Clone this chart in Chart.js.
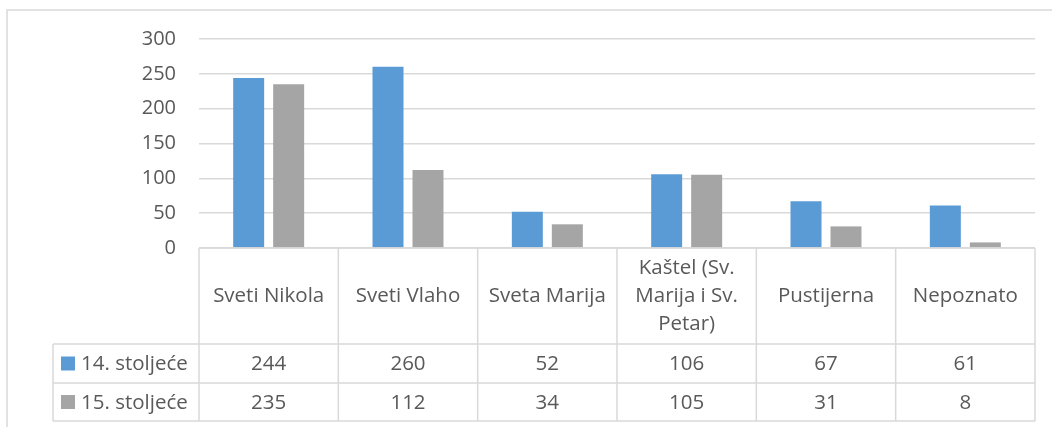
<!DOCTYPE html>
<html>
<head>
<meta charset="utf-8">
<script src="https://cdn.jsdelivr.net/npm/chart.js@4"></script>
<style>
  html, body { margin: 0; padding: 0; background: #fff; }
  canvas { display: block; }
</style>
</head>
<body>
<canvas id="chart" width="1052" height="427"></canvas>
<script>
const categories = ['Sveti Nikola', 'Sveti Vlaho', 'Sveta Marija', 'Kaštel (Sv. Marija i Sv. Petar)', 'Pustijerna', 'Nepoznato'];
const seriesNames = ['14. stoljeće', '15. stoljeće'];
const values14 = [244, 260, 52, 106, 67, 61];
const values15 = [235, 112, 34, 105, 31, 8];
const yMin = 0, yMax = 300, yStep = 50;

const BLUE = '#5B9BD5';
const GRAY = '#A5A5A5';
const LINE = '#D9D9D9';
const TEXT = '#595959';
const FONT = "'Open Sans', sans-serif";

// wrap a label into lines that fit the column
function wrap(ctx, text, maxW) {
    const words = text.split(' ');
    const lines = [];
    let cur = '';
    words.forEach(w => {
        const test = cur ? cur + ' ' + w : w;
        if (ctx.measureText(test).width > maxW && cur) {
            lines.push(cur);
            cur = w;
        } else {
            cur = test;
        }
    });
    if (cur) lines.push(cur);
    return lines;
}

// outer frame + data table under the plot
const tablePlugin = {
    id: 'dataTable',
    beforeDraw(chart) {
        const ctx = chart.ctx;
        ctx.save();
        ctx.strokeStyle = LINE;
        ctx.lineWidth = 1.5;
        ctx.beginPath();
        ctx.moveTo(7, chart.height);
        ctx.lineTo(7, 10);
        ctx.lineTo(chart.width, 10);
        ctx.stroke();
        ctx.restore();
    },
    afterDraw(chart) {
        const ctx = chart.ctx;
        const area = chart.chartArea;
        const xs = chart.scales.x;
        const colW = xs.getPixelForValue(1) - xs.getPixelForValue(0);
        const top = area.bottom;
        const headBottom = 344;
        const row1Bottom = 383;
        const row2Bottom = 421;
        const tableLeft = 53;

        ctx.save();
        ctx.strokeStyle = LINE;
        ctx.lineWidth = 1.5;
        ctx.beginPath();
        ctx.moveTo(area.left, top); ctx.lineTo(area.right, top);
        [headBottom, row1Bottom, row2Bottom].forEach(y => {
            ctx.moveTo(tableLeft, y); ctx.lineTo(area.right, y);
        });
        for (let i = 0; i <= categories.length; i++) {
            const x = xs.getPixelForValue(i) - colW / 2;
            ctx.moveTo(x, top); ctx.lineTo(x, row2Bottom);
        }
        ctx.moveTo(tableLeft, headBottom); ctx.lineTo(tableLeft, row2Bottom);
        ctx.stroke();

        ctx.fillStyle = TEXT;
        ctx.font = '20.5px ' + FONT;
        ctx.textAlign = 'center';
        ctx.textBaseline = 'middle';

        // header labels
        const lineH = 28;
        categories.forEach((c, i) => {
            const cx = xs.getPixelForValue(i);
            const lines = wrap(ctx, c, colW - 14);
            const midY = (top + headBottom) / 2;
            lines.forEach((ln, k) => {
                ctx.fillText(ln, cx, midY + (k - (lines.length - 1) / 2) * lineH);
            });
        });

        // rows
        const rows = [
            { name: seriesNames[0], color: BLUE, data: values14, y: (headBottom + row1Bottom) / 2 },
            { name: seriesNames[1], color: GRAY, data: values15, y: (row1Bottom + row2Bottom) / 2 }
        ];
        rows.forEach(r => {
            ctx.fillStyle = r.color;
            ctx.fillRect(61, r.y - 7, 14, 14);
            ctx.fillStyle = TEXT;
            ctx.textAlign = 'left';
            ctx.fillText(r.name, 81, r.y + 1);
            ctx.textAlign = 'center';
            r.data.forEach((v, i) => {
                ctx.fillText(String(v), xs.getPixelForValue(i), r.y + 1);
            });
        });
        ctx.restore();
    }
};

new Chart(document.getElementById('chart'), {
    type: 'bar',
    data: {
        labels: categories,
        datasets: [
            { label: seriesNames[0], data: values14, backgroundColor: BLUE, borderWidth: 0 },
            { label: seriesNames[1], data: values15, backgroundColor: GRAY, borderWidth: 0 }
        ]
    },
    options: {
        responsive: false,
        animation: false,
        devicePixelRatio: 1,
        categoryPercentage: 0.574,
        barPercentage: 0.775,
        layout: { padding: { left: 0, right: 17, top: 39, bottom: 179 } },
        plugins: { legend: { display: false }, tooltip: { enabled: false } },
        scales: {
            x: { display: false },
            y: {
                min: yMin,
                max: yMax,
                ticks: { stepSize: yStep, padding: 23, color: TEXT, font: { family: FONT, size: 20 } },
                grid: { color: LINE, lineWidth: 1.5, drawTicks: false },
                border: { display: false },
                afterFit(scale) { scale.width = 199; }
            }
        }
    },
    plugins: [tablePlugin]
});
</script>
</body>
</html>
